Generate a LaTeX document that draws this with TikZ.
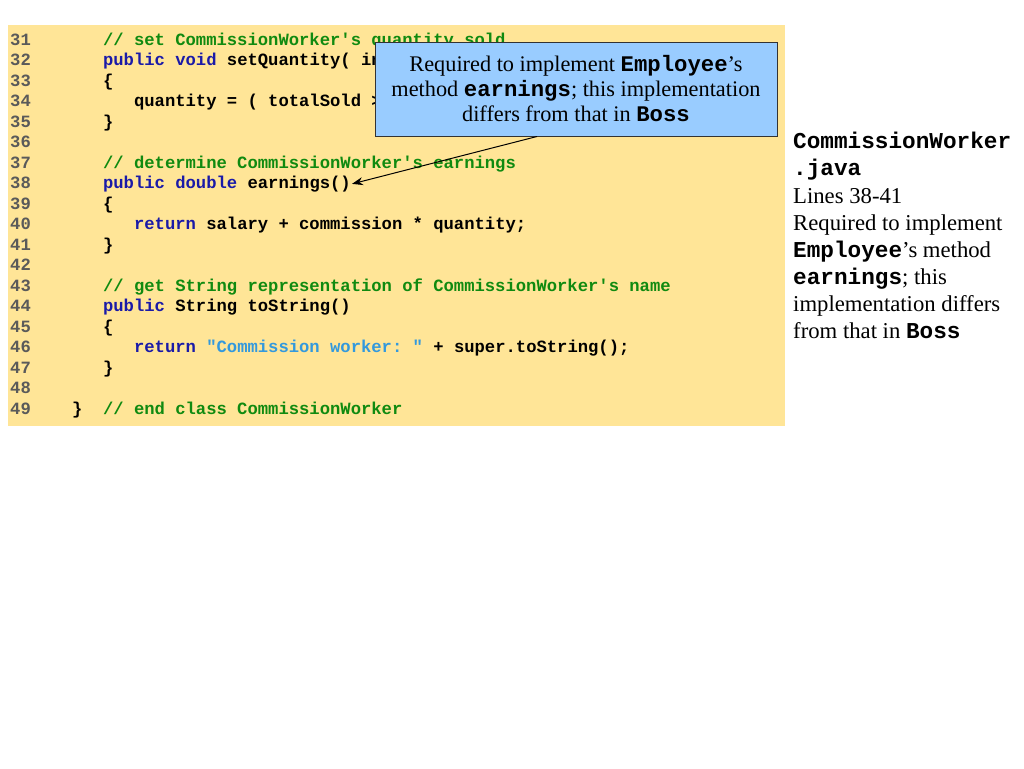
\documentclass[tikz,border=0pt]{standalone}
\usepackage{fontspec}
\usetikzlibrary{calc,arrows.meta}
\setmainfont{Liberation Serif}
\setmonofont{Liberation Mono}
\definecolor{codebg}{HTML}{FFE597}
\definecolor{calloutbg}{HTML}{99CCFF}
\definecolor{cmt}{HTML}{108A10}
\definecolor{kw}{HTML}{1A1AA8}
\definecolor{str}{HTML}{3399DD}
\definecolor{lnum}{HTML}{5A5A5A}
\newcommand{\cmtx}[1]{\textcolor{cmt}{#1}}
\newcommand{\kwx}[1]{\textcolor{kw}{#1}}
\newcommand{\strx}[1]{\textcolor{str}{#1}}
\newcommand{\mb}[1]{{\ttfamily\bfseries #1}}
\begin{document}
\begin{tikzpicture}[x=1pt,y=-1pt,
  codeline/.style={anchor=base west,inner sep=0pt,font=\ttfamily\bfseries\fontsize{17.2}{20.5}\selectfont},
  lnumber/.style={codeline,text=lnum},
  sidetext/.style={anchor=base west,inner sep=0pt,font=\fontsize{22.7}{27}\selectfont},
  calloutbox/.style={draw=black!80,line width=0.8pt,fill=calloutbg,inner sep=0pt},
  callouttext/.style={anchor=base,inner sep=0pt,font=\fontsize{22.3}{25}\selectfont}]
\useasboundingbox (0,0) rectangle (1024,768);
\fill[codebg] (8,25) rectangle (785,426);
% line numbers
\foreach \n [count=\i from 0] in {31,...,49}
  \node[lnumber] (ln\n) at (10,45.4+20.5*\i) {\n};
\def\cw{10.32}
\def\lx#1{10+#1*\cw}
\node[codeline] (c31) at ({\lx{9}},45.4) {\cmtx{// set CommissionWorker's quantity sold}};
\node[codeline] (c32) at ({\lx{9}},65.9) {\kwx{public void} setQuantity( int totalSold )};
\node[codeline] (c33) at ({\lx{9}},86.4) {\{};
\node[codeline] (c34) at ({\lx{12}},106.9) {quantity = ( totalSold > 0 ? totalSold : 0 );};
\node[codeline] (c35) at ({\lx{9}},127.4) {\}};
\node[codeline] (c37) at ({\lx{9}},168.4) {\cmtx{// determine CommissionWorker's earnings}};
\node[codeline] (c38) at ({\lx{9}},188.9) {\kwx{public double} earnings()};
\node[codeline] (c39) at ({\lx{9}},209.4) {\{};
\node[codeline] (c40) at ({\lx{12}},229.9) {\kwx{return} salary + commission * quantity;};
\node[codeline] (c41) at ({\lx{9}},250.4) {\}};
\node[codeline] (c43) at ({\lx{9}},291.4) {\cmtx{// get String representation of CommissionWorker's name}};
\node[codeline] (c44) at ({\lx{9}},311.9) {\kwx{public} String toString()};
\node[codeline] (c45) at ({\lx{9}},332.4) {\{};
\node[codeline] (c46) at ({\lx{12}},352.9) {\kwx{return} \strx{"Commission worker: "} + super.toString();};
\node[codeline] (c47) at ({\lx{9}},373.4) {\}};
\node[codeline] (c49a) at ({\lx{6}},414.4) {\}};
\node[codeline] (c49b) at ({\lx{9}},414.4) {\cmtx{// end class CommissionWorker}};
% callout
\node[calloutbox,minimum width=402pt,minimum height=94pt] (callout) at (576,89) {};
\node[callouttext] (t1) at (576,71) {Required to implement \mb{Employee}’s};
\node[callouttext] (t2) at (576,96) {method \mb{earnings}; this implementation};
\node[callouttext] (t3) at (576,121) {differs from that in \mb{Boss}};
\coordinate (arrowstart) at (537,136.5);
\coordinate (arrowend) at ($(c38.base east)+(1,-5)$);
\draw[-{Stealth[length=11pt,width=8pt]},line width=1pt] (arrowstart) -- (arrowend);
% side text
\node[sidetext] (s1) at (793,148) {\mb{CommissionWorker}};
\node[sidetext] (s2) at (793,175) {\mb{.java}};
\node[sidetext] (s3) at (793,203) {Lines 38-41};
\node[sidetext] (s4) at (793,230) {Required to implement};
\node[sidetext] (s5) at (793,257) {\mb{Employee}’s method};
\node[sidetext] (s6) at (793,284) {\mb{earnings}; this};
\node[sidetext] (s7) at (793,311) {implementation differs};
\node[sidetext] (s8) at (793,338) {from that in \mb{Boss}};
\end{tikzpicture}
\end{document}
